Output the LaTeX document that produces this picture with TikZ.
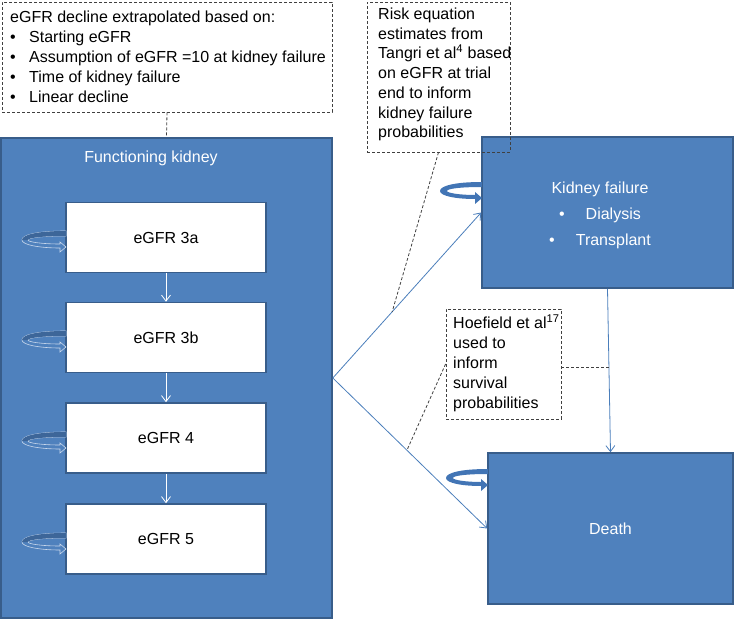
\documentclass[tikz,border=0pt]{standalone}
\usepackage{fontspec}
\setmainfont{Liberation Sans}
\usetikzlibrary{arrows.meta,calc}
\definecolor{fkblue}{HTML}{4F81BD}
\definecolor{bdr}{HTML}{385D8A}
\definecolor{conn}{HTML}{4A7EBB}
\definecolor{loopline}{HTML}{C9D8EC}
\definecolor{loopdark}{HTML}{3D6699}
\definecolor{loopsolid}{HTML}{4275B5}
\definecolor{dashcol}{HTML}{404040}
\tikzset{
  bluebox/.style={draw=bdr, line width=1.6pt, fill=fkblue, inner sep=0pt},
  whitebox/.style={draw=bdr, line width=1.6pt, fill=white, minimum width=200pt, minimum height=70pt, inner sep=0pt},
  notebox/.style={draw=dashcol, line width=0.8pt, dash pattern=on 3pt off 2pt, inner sep=0pt},
  notetext/.style={align=left, inner sep=0pt, anchor=west, text=black},
  flow/.style={draw=conn, line width=0.8pt, -{Straight Barb[length=6pt,width=9pt]}},
  innerflow/.style={draw=white, line width=0.8pt, -{Straight Barb[length=6pt,width=9pt]}},
  leader/.style={draw=dashcol, line width=0.8pt, dash pattern=on 3pt off 2pt},
  hollowloop/.pic={
    \path[fill=fkblue, draw=loopline, line width=0.6pt]
      (0,-9) .. controls (-30,-9) and (-44,-5) .. (-44,0)
      .. controls (-44,5) and (-26,8) .. (-6,8) -- (-6,12) -- (0,7) -- (-6,2) -- (-6,4)
      .. controls (-24,4) and (-38,2) .. (-38,0)
      .. controls (-38,-2) and (-26,-4) .. (0,-4) -- cycle;
    \fill[loopdark] (0,-9) .. controls (-30,-9) and (-44,-5) .. (-44,0) -- (-38,0)
      .. controls (-38,-2) and (-26,-4) .. (0,-4) -- cycle;
  },
  solidloop/.pic={
    \fill[loopsolid]
      (0,-9) .. controls (-28,-9) and (-42,-5) .. (-42,0)
      .. controls (-42,5) and (-26,8) .. (-7,8) -- (-7,13) -- (0,7) -- (-7,1) -- (-7,4)
      .. controls (-22,4) and (-35,2) .. (-35,0)
      .. controls (-35,-2) and (-24,-4) .. (0,-4) -- cycle;
  }
}
\begin{document}
\begin{tikzpicture}[x=1pt,y=-1pt,font=\fontsize{16}{20}\selectfont]
\useasboundingbox (0,0) rectangle (735,620);

% Functioning kidney
\node[bluebox, minimum width=331pt, minimum height=480pt] (fk) at (166.5,378) {};
\node[text=white, inner sep=0pt] (fktitle) at (151,158) {Functioning kidney};
\node[whitebox] (e3a) at (166,237.5) {eGFR 3a};
\node[whitebox] (e3b) at (166,337.5) {eGFR 3b};
\node[whitebox] (e4) at (166,438) {eGFR 4};
\node[whitebox] (e5) at (166,539) {eGFR 5};
\draw[innerflow] (e3a) -- (e3b);
\draw[innerflow] (e3b) -- (e4);
\draw[innerflow] (e4) -- (e5);
\pic at (66,240) {hollowloop};
\pic at (66,340) {hollowloop};
\pic at (66,441) {hollowloop};
\pic at (66,542) {hollowloop};

% Kidney failure
\node[bluebox, minimum width=251pt, minimum height=151pt] (kf) at (607.5,212.5) {};
\node[text=white, align=center, inner sep=0pt] (kftext) at (600,215)
  {Kidney failure\\[6pt]\textbullet\hspace{21pt}Dialysis\\[6pt]\textbullet\hspace{21pt}Transplant};
\pic at (482,191) {solidloop};

% Death
\node[bluebox, minimum width=245pt, minimum height=151pt, text=white] (death) at (610.5,528.5) {Death};
\pic at (488,478) {solidloop};

% Transitions
\draw[flow] (fk.east) -- (kf.west);
\draw[flow] (fk.east) -- (death.west);
\draw[flow] (kf.south) -- (death.north);

\coordinate (p1) at ($(fk.east)!0.4!(kf.west)$);
\coordinate (p2) at ($(fk.east)!0.48!(death.west)$);
\coordinate (p3) at ($(kf.south)!0.48!(death.north)$);

% Notes
\node[notebox, minimum width=330pt, minimum height=110pt] (topnote) at (167,57) {};
\node[notetext] (toptext) at (10,57) {eGFR decline extrapolated based on:\\
  \makebox[19pt][l]{\textbullet}Starting eGFR\\
  \makebox[19pt][l]{\textbullet}Assumption of eGFR =10 at kidney failure\\
  \makebox[19pt][l]{\textbullet}Time of kidney failure\\
  \makebox[19pt][l]{\textbullet}Linear decline};

\node[notebox, minimum width=143pt, minimum height=150pt] (risk) at (438.5,77) {};
\node[notetext, font=\fontsize{16}{19.7}\selectfont] (risktext) at (378,74.5) {Risk equation\\estimates from\\Tangri et al\textsuperscript{4} based\\on eGFR at trial\\end to inform\\kidney failure\\probabilities};

\node[notebox, minimum width=115pt, minimum height=110pt] (hoef) at (503.5,364) {};
\node[notetext] (hoeftext) at (453,363) {Hoefield et al\textsuperscript{17}\\used to\\inform\\survival\\probabilities};

% Leaders
\draw[leader] (topnote.south) -- (fk.north);
\draw[leader] (risk.south) -- (p1);
\draw[leader] (hoef.west) -- (p2);
\draw[leader] (hoef.east |- p3) -- (p3);
\end{tikzpicture}
\end{document}
